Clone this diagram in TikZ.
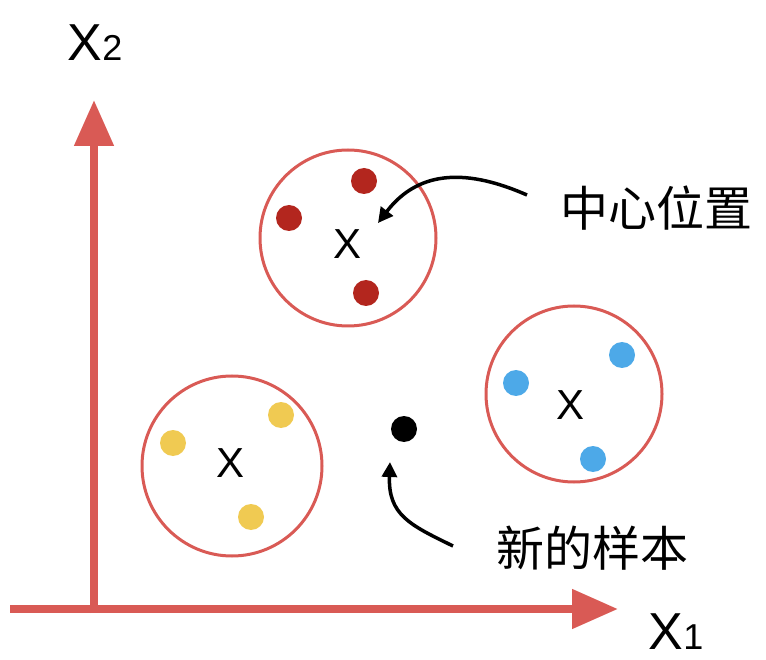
\documentclass[tikz,border=0pt]{standalone}
\usepackage{fontspec}
\setmainfont{Liberation Sans}
\newfontfamily\cjk{Noto Sans CJK SC}
\usetikzlibrary{arrows.meta}
\definecolor{axred}{HTML}{D95A55}
\definecolor{dred}{HTML}{B3261E}
\definecolor{dyel}{HTML}{F0CA52}
\definecolor{dblue}{HTML}{4DA9E8}
\begin{document}
\begin{tikzpicture}[x=1pt,y=-1pt,
  axis/.style={draw=axred,line width=8pt,-{Triangle[length=46pt,width=38pt]}},
  clus/.style={circle,draw=axred,line width=3pt,minimum size=#1,inner sep=0pt},
  dot/.style={circle,fill=#1,minimum size=26pt,inner sep=0pt},
  cen/.style={font=\fontsize{42}{42}\selectfont,inner sep=0pt},
  lab/.style={font=\fontsize{52}{52}\selectfont,inner sep=0pt,text depth=0pt},
  cjklab/.style={font=\cjk\fontsize{48}{48}\selectfont,inner sep=0pt},
  pointer/.style={draw=black,line width=3.5pt,-{Triangle[length=15pt,width=15pt]}}]
\useasboundingbox (0,0) rectangle (766,660);
% axes
\coordinate (o1) at (10,609);
\coordinate (xe) at (618,609);
\coordinate (o2) at (94,613);
\coordinate (ye) at (94,100);
\draw[axis] (o1) -- (xe);
\draw[axis] (o2) -- (ye);
\node[lab] (x2) at (95,43) {X{\fontsize{36}{36}\selectfont 2}};
\node[lab] (x1) at (676,632) {X{\fontsize{36}{36}\selectfont 1}};
% clusters
\node[clus=176pt] (c1) at (348,238) {};
\node[clus=180pt] (c2) at (232,466) {};
\node[clus=176pt] (c3) at (574,394) {};
\node[dot=dred] (r1) at (364,181) {};
\node[dot=dred] (r2) at (289,218) {};
\node[dot=dred] (r3) at (366,293) {};
\node[dot=dyel] (y1) at (173,443) {};
\node[dot=dyel] (y2) at (281,415) {};
\node[dot=dyel] (y3) at (251,517) {};
\node[dot=dblue] (b1) at (516,383) {};
\node[dot=dblue] (b2) at (622,355) {};
\node[dot=dblue] (b3) at (593,459) {};
\node[dot=black] (nw) at (404,429) {};
\node[cen] (k1) at (348,244) {X};
\node[cen] (k2) at (231,463) {X};
\node[cen] (k3) at (571,405) {X};
% labels
\node[cjklab] (t1) at (656,208) {中心位置};
\node[cjklab] (t2) at (592,548) {新的样本};
\coordinate (a1s) at (527,195);
\coordinate (a1e) at (378,223);
\coordinate (a2s) at (453,546);
\coordinate (a2e) at (390,462);
\draw[pointer] (a1s) .. controls (470,170) and (420,168) .. (a1e);
\draw[pointer] (a2s) .. controls (410,525) and (388,515) .. (a2e);
\end{tikzpicture}
\end{document}
